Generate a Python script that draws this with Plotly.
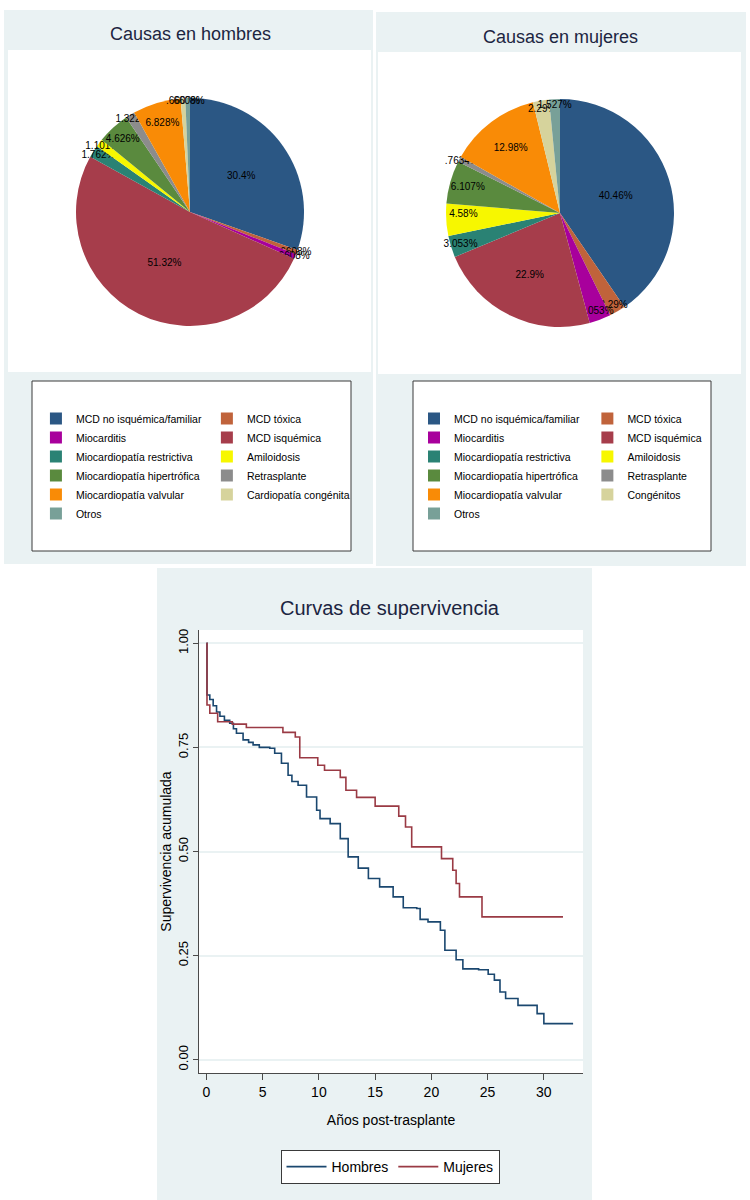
import plotly.graph_objects as go

# causas de trasplante (porcentajes)
causas_h = ["MCD no isquémica/familiar", "MCD tóxica", "Miocarditis", "MCD isquémica",
            "Miocardiopatía restrictiva", "Amiloidosis", "Miocardiopatía hipertrófica",
            "Retrasplante", "Miocardiopatía valvular", "Cardiopatía congénita", "Otros"]
causas_m = ["MCD no isquémica/familiar", "MCD tóxica", "Miocarditis", "MCD isquémica",
            "Miocardiopatía restrictiva", "Amiloidosis", "Miocardiopatía hipertrófica",
            "Retrasplante", "Miocardiopatía valvular", "Congénitos", "Otros"]
pct_hombres = [30.4, .6608, .6608, 51.32, 1.762, 1.101, 4.626, 1.322, 6.828, .6608, .6608]
pct_mujeres = [40.46, 2.29, 3.053, 22.9, 3.053, 4.58, 6.107, .7634, 12.98, 2.29, 1.527]
colores = ["#2b5784", "#c0633b", "#a8009c", "#a63d4b", "#2a8274", "#f7f700",
           "#5a8a3e", "#8c8c8c", "#f98b06", "#d6d39c", "#78a098"]

# curvas de supervivencia (Kaplan-Meier)
t_hombres = [0, 0.05, 0.3, 0.6, 0.9, 1.2, 1.6, 2.07, 2.4, 2.67, 3.26, 3.75, 4.15, 4.7,
             5.63, 6.07, 6.67, 7.26, 7.6, 8.15, 8.9, 9.8, 10.1, 11.0, 11.9, 12.6, 13.5,
             14.4, 15.4, 16.6, 17.5, 18.7, 19.0, 19.7, 20.8, 21.2, 22.2, 22.8, 24.2,
             25.05, 25.6, 26.1, 26.6, 27.7, 29.4, 30.0, 32.6]
s_hombres = [1.0, 0.876, 0.865, 0.85, 0.835, 0.825, 0.815, 0.808, 0.795, 0.784, 0.768,
             0.762, 0.756, 0.75, 0.748, 0.736, 0.712, 0.683, 0.668, 0.659, 0.631, 0.599,
             0.579, 0.567, 0.531, 0.487, 0.46, 0.435, 0.415, 0.391, 0.365, 0.363, 0.337,
             0.331, 0.311, 0.263, 0.24, 0.218, 0.216, 0.205, 0.191, 0.1625, 0.147,
             0.1305, 0.1106, 0.0865, 0.0865]
t_mujeres = [0, 0.05, 0.3, 1.0, 2.3, 3.55, 6.8, 7.9, 8.3, 9.9, 10.5, 11.9, 12.4, 13.35,
             15.0, 17.1, 17.7, 18.25, 20.9, 21.9, 22.2, 22.5, 24.5, 31.7]
s_mujeres = [1.0, 0.852, 0.832, 0.8115, 0.806, 0.798, 0.786, 0.775, 0.725, 0.707, 0.695,
             0.678, 0.647, 0.63, 0.609, 0.585, 0.559, 0.511, 0.483, 0.455, 0.423, 0.391,
             0.343, 0.343]
y_ticks = [0, 0.25, 0.5, 0.75, 1.0]
x_ticks = [0, 5, 10, 15, 20, 25, 30]

FONT = "Liberation Sans, Arial, sans-serif"
BG = "#eaf2f3"
W, H = 750, 1200
ML, MR = 36, 47
GW = W - ML - MR


def px(x):
    return (x - ML) / GW


def py(y):
    return 1 - y / H


def etiqueta(v):
    s = f"{v:.4g}"
    if s.startswith("0."):
        s = s[1:]
    return s + "%"


def dominio(cx, cy, d):
    return dict(x=[px(cx - d / 2), px(cx + d / 2)], y=[py(cy + d / 2), py(cy - d / 2)])


fig = go.Figure()

fig.add_trace(go.Pie(
    labels=causas_h, values=pct_hombres, text=[etiqueta(v) for v in pct_hombres],
    textinfo="text", textposition="inside", insidetextorientation="horizontal",
    sort=False, direction="clockwise", rotation=0,
    marker=dict(colors=colores, line=dict(width=0)),
    textfont=dict(color="black", size=10, family=FONT),
    domain=dominio(190, 212, 228), legend="legend", hoverinfo="label+percent",
))
# un espacio final para que la leyenda de mujeres no se mezcle con la de hombres
fig.add_trace(go.Pie(
    labels=[c + " " for c in causas_m], values=pct_mujeres,
    text=[etiqueta(v) for v in pct_mujeres],
    textinfo="text", textposition="inside", insidetextorientation="horizontal",
    sort=False, direction="clockwise", rotation=0,
    marker=dict(colors=colores, line=dict(width=0)),
    textfont=dict(color="black", size=10, family=FONT),
    domain=dominio(560, 213, 228), legend="legend2", hoverinfo="label+percent",
))

fig.add_trace(go.Scatter(x=t_hombres, y=s_hombres, name="Hombres", mode="lines",
                         line=dict(color="#1a476f", width=1.6, shape="hv"), legend="legend3"))
fig.add_trace(go.Scatter(x=t_mujeres, y=s_mujeres, name="Mujeres", mode="lines",
                         line=dict(color="#9a3a44", width=1.6, shape="hv"), legend="legend3"))

shapes = []
# paneles de fondo
for x0, y0, x1, y1, c in [(4, 10, 373, 564, BG), (8, 50, 371, 372, "white"),
                          (376, 12, 746, 566, BG), (378, 52, 741, 374, "white"),
                          (157, 568, 592, 1200, BG), (199, 630, 583, 1073, "white")]:
    shapes.append(dict(type="rect", xref="paper", yref="paper", layer="below",
                       x0=px(x0), x1=px(x1), y0=py(y1), y1=py(y0),
                       fillcolor=c, line=dict(width=0)))
# cajas de las leyendas de los pasteles
for x0, x1 in [(32, 351), (413, 711)]:
    shapes.append(dict(type="rect", xref="paper", yref="paper", layer="below",
                       x0=px(x0), x1=px(x1), y0=py(551), y1=py(381),
                       fillcolor="white", line=dict(color="#3a3a3a", width=1)))

titulo = dict(family=FONT, size=18, color="#1c2541")
annotations = [
    dict(text="Causas en hombres", x=px(190), y=py(34), xref="paper", yref="paper",
         xanchor="center", yanchor="middle", showarrow=False, font=titulo),
    dict(text="Causas en mujeres", x=px(560), y=py(37), xref="paper", yref="paper",
         xanchor="center", yanchor="middle", showarrow=False, font=titulo),
    dict(text="Curvas de supervivencia", x=px(390), y=py(608), xref="paper", yref="paper",
         xanchor="center", yanchor="middle", showarrow=False,
         font=dict(family=FONT, size=20, color="#1c2541")),
]

leyenda_pastel = dict(orientation="h", bgcolor="rgba(0,0,0,0)", borderwidth=0,
                      font=dict(family=FONT, size=10.5, color="black"),
                      yanchor="middle", y=py(466), itemclick=False)

fig.update_layout(
    width=W, height=H,
    margin=dict(l=ML, r=MR, t=0, b=0, autoexpand=False),
    paper_bgcolor="white", plot_bgcolor="white",
    font=dict(family=FONT, color="black"),
    shapes=shapes, annotations=annotations,
    legend=dict(leyenda_pastel, x=-0.0001, xanchor="left"),
    legend2=dict(leyenda_pastel, x=px(710), xanchor="right"),
    legend3=dict(orientation="h", x=px(390), xanchor="center", y=py(1167), yanchor="middle",
                 bgcolor="white", bordercolor="#3a3a3a", borderwidth=1, itemwidth=40,
                 font=dict(family=FONT, size=14, color="black")),
    xaxis=dict(domain=[px(199), px(583)], range=[-0.66, 33.48], tickvals=x_ticks,
               showgrid=False, zeroline=False, showline=True, linecolor="#4a4a4a",
               linewidth=1.2, ticks="outside", ticklen=6, tickcolor="#4a4a4a",
               tickfont=dict(size=14),
               title=dict(text="Años post-trasplante", font=dict(size=14), standoff=16)),
    yaxis=dict(domain=[py(1073), py(630)], range=[-0.032, 1.032], tickvals=y_ticks,
               tickformat=".2f", tickangle=-90, showgrid=True, gridcolor=BG, gridwidth=2,
               zeroline=False, showline=True, linecolor="#4a4a4a", linewidth=1.2,
               ticks="outside", ticklen=5, tickcolor="#4a4a4a", tickfont=dict(size=13),
               title=dict(text="Supervivencia acumulada", font=dict(size=14), standoff=0)),
    uniformtext=dict(minsize=10, mode="show"),
)

# sin margen del body para que la figura ocupe la ventana exacta
fig.write_html("out.html", config={"displayModeBar": False},
               post_script="document.body.style.margin='0px';")
